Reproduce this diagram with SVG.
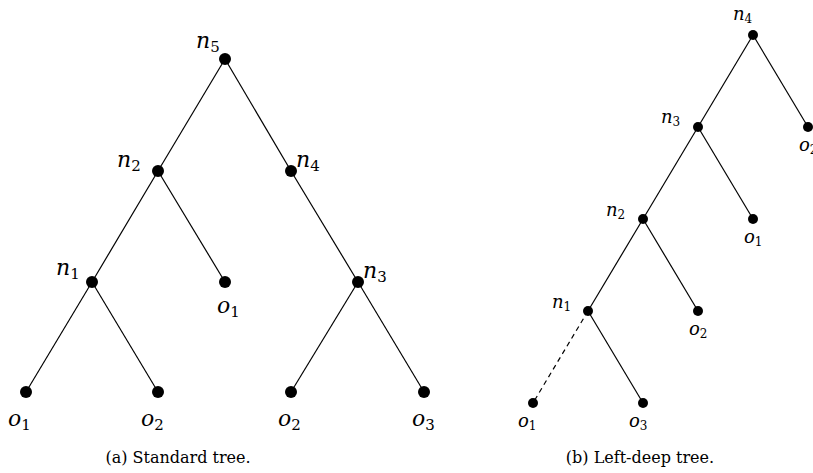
<svg xmlns="http://www.w3.org/2000/svg" width="813" height="473" viewBox="0 0 813 473">
<style>
.e{stroke:#000;stroke-width:1.2;fill:none}
.d{stroke-dasharray:5,4}
.a{fill:#000}
.lab{font-style:italic;fill:#000}
.L{font-size:22px}
.R{font-size:18px}
.sub{font-style:normal}
.L .sub{font-size:15px}
.R .sub{font-size:12px}
.cap{font-size:16px;fill:#000;text-anchor:middle}
</style>
<rect width="813" height="473" fill="#fff"/>
<g id="connectors">
<line class="e" x1="225" y1="59" x2="158" y2="171"/>
<line class="e" x1="225" y1="59" x2="291" y2="171"/>
<line class="e" x1="158" y1="171" x2="92" y2="282"/>
<line class="e" x1="158" y1="171" x2="225" y2="282"/>
<line class="e" x1="291" y1="171" x2="358" y2="282"/>
<line class="e" x1="92" y1="282" x2="26" y2="392"/>
<line class="e" x1="92" y1="282" x2="158" y2="392"/>
<line class="e" x1="358" y1="282" x2="291" y2="392"/>
<line class="e" x1="358" y1="282" x2="424" y2="392"/>
<line class="e" x1="753" y1="35" x2="698" y2="127"/>
<line class="e" x1="753" y1="35" x2="808" y2="127"/>
<line class="e" x1="698" y1="127" x2="643" y2="219"/>
<line class="e" x1="698" y1="127" x2="753" y2="219"/>
<line class="e" x1="643" y1="219" x2="588" y2="311"/>
<line class="e" x1="643" y1="219" x2="698" y2="311"/>
<line class="e d" x1="588" y1="311" x2="533" y2="403"/>
<line class="e" x1="588" y1="311" x2="643" y2="403"/>
</g>
<g font-family="'DejaVu Serif', serif">
<g id="a-n5"><circle class="a" cx="225" cy="59" r="6"/><text class="lab L" x="196" y="48">n<tspan class="sub" dy="4">5</tspan></text></g>
<g id="a-n2"><circle class="a" cx="158" cy="171" r="6"/><text class="lab L" x="117" y="167">n<tspan class="sub" dy="4">2</tspan></text></g>
<g id="a-n4"><circle class="a" cx="291" cy="171" r="6"/><text class="lab L" x="296" y="167">n<tspan class="sub" dy="4">4</tspan></text></g>
<g id="a-n1"><circle class="a" cx="92" cy="282" r="6"/><text class="lab L" x="56" y="275">n<tspan class="sub" dy="4">1</tspan></text></g>
<g id="a-o1"><circle class="a" cx="225" cy="282" r="6"/><text class="lab L" x="217" y="313">o<tspan class="sub" dy="4">1</tspan></text></g>
<g id="a-n3"><circle class="a" cx="358" cy="282" r="6"/><text class="lab L" x="363" y="278">n<tspan class="sub" dy="4">3</tspan></text></g>
<g id="a-o1b"><circle class="a" cx="26" cy="392" r="6"/><text class="lab L" x="8" y="426">o<tspan class="sub" dy="4">1</tspan></text></g>
<g id="a-o2"><circle class="a" cx="158" cy="392" r="6"/><text class="lab L" x="141" y="426">o<tspan class="sub" dy="4">2</tspan></text></g>
<g id="a-o2b"><circle class="a" cx="291" cy="392" r="6"/><text class="lab L" x="278" y="426">o<tspan class="sub" dy="4">2</tspan></text></g>
<g id="a-o3"><circle class="a" cx="424" cy="392" r="6"/><text class="lab L" x="412" y="426">o<tspan class="sub" dy="4">3</tspan></text></g>
<g id="b-n4"><circle class="a" cx="753" cy="35" r="5"/><text class="lab R" x="733" y="20">n<tspan class="sub" dy="3">4</tspan></text></g>
<g id="b-n3"><circle class="a" cx="698" cy="127" r="5"/><text class="lab R" x="661" y="123">n<tspan class="sub" dy="3">3</tspan></text></g>
<g id="b-o2"><circle class="a" cx="808" cy="127" r="5"/><text class="lab R" x="799" y="151">o<tspan class="sub" dy="3">2</tspan></text></g>
<g id="b-n2"><circle class="a" cx="643" cy="219" r="5"/><text class="lab R" x="606" y="216">n<tspan class="sub" dy="3">2</tspan></text></g>
<g id="b-o1"><circle class="a" cx="753" cy="219" r="5"/><text class="lab R" x="744" y="243">o<tspan class="sub" dy="3">1</tspan></text></g>
<g id="b-n1"><circle class="a" cx="588" cy="311" r="5"/><text class="lab R" x="552" y="308">n<tspan class="sub" dy="3">1</tspan></text></g>
<g id="b-o2b"><circle class="a" cx="698" cy="311" r="5"/><text class="lab R" x="689" y="335">o<tspan class="sub" dy="3">2</tspan></text></g>
<g id="b-o1b"><circle class="a" cx="533" cy="403" r="5"/><text class="lab R" x="518" y="427">o<tspan class="sub" dy="3">1</tspan></text></g>
<g id="b-o3"><circle class="a" cx="643" cy="403" r="5"/><text class="lab R" x="629" y="427">o<tspan class="sub" dy="3">3</tspan></text></g>
<text class="cap" x="178" y="463">(a) Standard tree.</text>
<text class="cap" x="640" y="463">(b) Left-deep tree.</text>
</g>
</svg>
